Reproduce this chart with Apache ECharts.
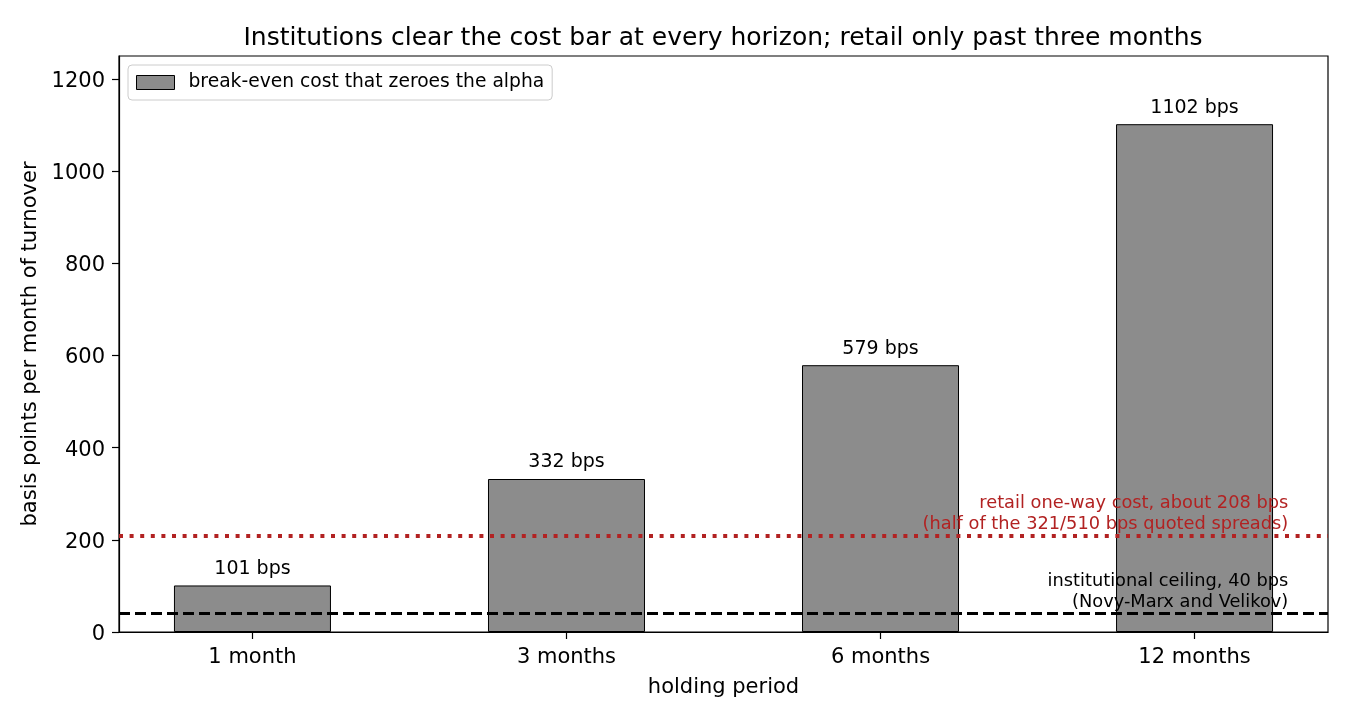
<!DOCTYPE html>
<html lang="en">
<head>
    <meta charset="UTF-8">
    <title>Break-even cost by holding period</title>
    <script src="https://cdn.jsdelivr.net/npm/echarts@6.0.0/dist/echarts.min.js"></script>
    <style>
        body, html {
            margin: 0;
            padding: 0;
            background-color: #ffffff;
        }
        #chart {
            width: 1350px;
            height: 720px;
        }
    </style>
</head>
<body>
    <div id="chart"></div>

    <script>
        // data
        const periods = ['1 month', '3 months', '6 months', '12 months'];
        const breakEven = [101, 332, 579, 1102];
        const retailCost = 208;
        const institutionalCeiling = 40;
        const yTicks = [0, 200, 400, 600, 800, 1000, 1200];
        const retailNote = 'retail one-way cost, about 208 bps\n(half of the 321/510 bps quoted spreads)';
        const instNote = 'institutional ceiling, 40 bps\n(Novy-Marx and Velikov)';

        const font = 'DejaVu Sans';
        const chart = echarts.init(document.getElementById('chart'));

        const option = {
            backgroundColor: '#ffffff',
            textStyle: { fontFamily: font },
            title: {
                text: 'Institutions clear the cost bar at every horizon; retail only past three months',
                left: 718,
                top: 21,
                textAlign: 'center',
                textStyle: { fontFamily: font, fontSize: 25, fontWeight: 'normal', color: '#000' }
            },
            legend: {
                left: 128,
                top: 65,
                padding: [8, 8, 8, 8],
                backgroundColor: 'rgba(255,255,255,0.8)',
                borderColor: '#cccccc',
                borderWidth: 1,
                borderRadius: 4,
                itemWidth: 38,
                itemHeight: 14,
                icon: 'rect',
                data: [{
                    name: 'break-even cost that zeroes the alpha',
                    itemStyle: { color: '#8c8c8c', borderColor: '#000', borderWidth: 1 }
                }],
                textStyle: { fontFamily: font, fontSize: 18.7, color: '#000', padding: [0, 0, 0, 9] }
            },
            grid: {
                left: 119,
                right: 22,
                top: 56,
                bottom: 88,
                show: true,
                borderColor: '#000',
                borderWidth: 1.2,
                containLabel: false
            },
            xAxis: {
                type: 'value',
                min: -0.425,
                max: 3.425,
                name: 'holding period',
                nameLocation: 'middle',
                nameGap: 45,
                nameTextStyle: { fontFamily: font, fontSize: 21, color: '#000' },
                splitLine: { show: false },
                axisLine: { show: true, onZero: false, lineStyle: { color: '#000', width: 1.2 } },
                axisTick: { show: true, length: 7, customValues: [0, 1, 2, 3], lineStyle: { color: '#000', width: 1.2 } },
                axisLabel: {
                    customValues: [0, 1, 2, 3],
                    margin: 15,
                    fontFamily: font,
                    fontSize: 21,
                    color: '#000',
                    formatter: v => periods[Math.round(v)]
                }
            },
            yAxis: {
                type: 'value',
                min: 0,
                max: 1250,
                name: 'basis points per month of turnover',
                nameLocation: 'middle',
                nameGap: 71,
                nameRotate: 90,
                nameTextStyle: { fontFamily: font, fontSize: 21, color: '#000' },
                splitLine: { show: false },
                axisLine: { show: true, onZero: false, lineStyle: { color: '#000', width: 1.2 } },
                axisTick: { show: true, length: 7, customValues: yTicks, lineStyle: { color: '#000', width: 1.2 } },
                axisLabel: {
                    customValues: yTicks,
                    margin: 14,
                    fontFamily: font,
                    fontSize: 21,
                    color: '#000',
                    formatter: v => '{t|' + v + '}',
                    rich: {
                        t: { fontFamily: font, fontSize: 21, color: '#000', padding: [5, 0, 0, 0] }
                    }
                }
            },
            series: [{
                name: 'break-even cost that zeroes the alpha',
                type: 'bar',
                barWidth: 157,
                data: breakEven.map((v, i) => [i, v]),
                itemStyle: { color: '#8c8c8c', borderColor: '#000', borderWidth: 1 },
                label: {
                    show: true,
                    position: 'top',
                    distance: 7,
                    fontFamily: font,
                    fontSize: 19,
                    color: '#000',
                    formatter: p => p.value[1] + ' bps'
                },
                markLine: {
                    silent: true,
                    symbol: 'none',
                    z: 10,
                    label: { show: false },
                    data: [
                        { yAxis: retailCost, lineStyle: { color: '#b22222', type: [4, 6.6], width: 4 } },
                        { yAxis: institutionalCeiling, lineStyle: { color: '#000', type: [11, 5], width: 3 } }
                    ]
                },
                markPoint: {
                    silent: true,
                    symbol: 'circle',
                    symbolSize: 1,
                    itemStyle: { color: 'rgba(0,0,0,0)' },
                    z: 11,
                    data: [
                        {
                            coord: [3.3, retailCost],
                            label: {
                                show: true,
                                formatter: retailNote,
                                position: [0, -1],
                                align: 'right',
                                verticalAlign: 'bottom',
                                lineHeight: 21,
                                fontFamily: font,
                                fontSize: 17.8,
                                color: '#b22222'
                            }
                        },
                        {
                            coord: [3.3, institutionalCeiling],
                            label: {
                                show: true,
                                formatter: instNote,
                                position: [0, 0],
                                align: 'right',
                                verticalAlign: 'bottom',
                                lineHeight: 21,
                                fontFamily: font,
                                fontSize: 17.8,
                                color: '#000'
                            }
                        }
                    ]
                }
            }]
        };

        chart.setOption(option);
    </script>
</body>
</html>
